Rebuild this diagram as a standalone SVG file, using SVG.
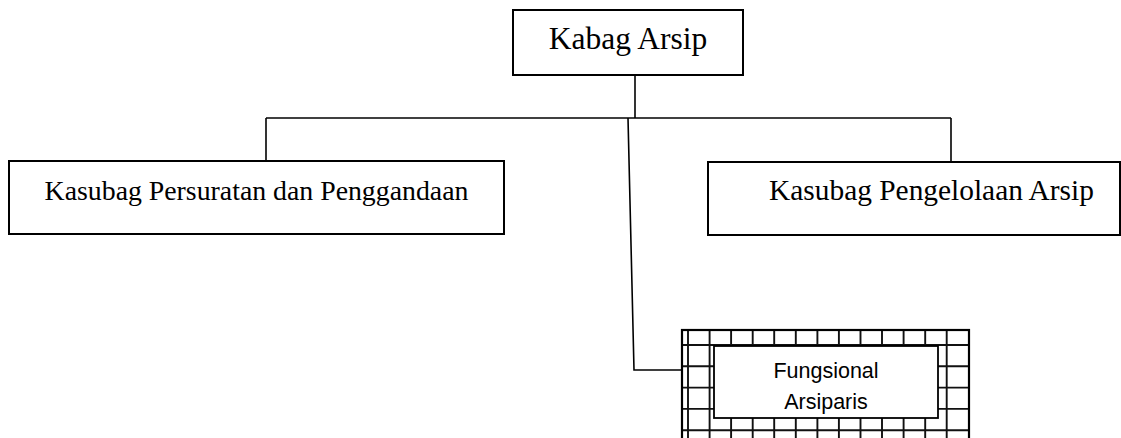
<svg xmlns="http://www.w3.org/2000/svg" width="1121" height="438" viewBox="0 0 1121 438">
  <style>
    .box { fill: #ffffff; stroke: #000000; stroke-width: 2; }
    .serif { font-family: "Liberation Serif", "Times New Roman", serif; fill: #000000; text-anchor: middle; }
    .sans { font-family: "Liberation Sans", Arial, sans-serif; fill: #000000; text-anchor: middle; font-size: 21.5px; }
    .wire { fill: none; stroke: #000000; stroke-width: 1.6; }
    .grid { fill: none; stroke: #111111; stroke-width: 1.9; }
  </style>
  <rect width="1121" height="438" fill="#ffffff"/>

  <!-- connectors -->
  <g id="connectors">
    <path class="wire" d="M635 75 V118"/>
    <path class="wire" d="M266 118 H951"/>
    <path class="wire" d="M266 118 V161"/>
    <path class="wire" d="M951 118 V162"/>
    <path class="wire" d="M628 118 L634 370 H682"/>
  </g>

  <!-- head of section -->
  <g id="kabag-arsip">
    <rect class="box" x="513" y="10" width="230" height="65"/>
    <text class="serif" x="628" y="49" font-size="31.5">Kabag Arsip</text>
  </g>

  <!-- sub-section: correspondence and duplication -->
  <g id="kasubag-persuratan">
    <rect class="box" x="9" y="161" width="495" height="73"/>
    <text class="serif" x="256.5" y="200" font-size="27.8">Kasubag Persuratan dan Penggandaan</text>
  </g>

  <!-- sub-section: archive management -->
  <g id="kasubag-pengelolaan">
    <rect class="box" x="708" y="162" width="412" height="73"/>
    <text class="serif" x="931.5" y="200" font-size="29.4">Kasubag Pengelolaan Arsip</text>
  </g>

  <!-- functional archivists: hatched frame with inner label box -->
  <g id="fungsional-arsiparis">
    <rect x="682" y="330" width="287" height="120" fill="#ffffff" stroke="#000000" stroke-width="2"/>
    <path class="grid" d="M688 330 V438 M709.6 330 V438 M731.1 330 V438 M752.7 330 V438 M774.2 330 V438 M795.8 330 V438 M817.4 330 V438 M838.9 330 V438 M860.5 330 V438 M882 330 V438 M903.6 330 V438 M925.2 330 V438 M946.7 330 V438"/>
    <path class="grid" d="M682 345 H969 M682 366.3 H969 M682 387.6 H969 M682 408.9 H969 M682 430.2 H969"/>
    <rect x="682" y="330" width="287" height="120" fill="none" stroke="#000000" stroke-width="2.2"/>
    <rect x="714" y="346" width="224" height="72" fill="#ffffff" stroke="#000000" stroke-width="1.8"/>
    <text class="sans" x="826" y="378">Fungsional</text>
    <text class="sans" x="826" y="409">Arsiparis</text>
  </g>
</svg>
